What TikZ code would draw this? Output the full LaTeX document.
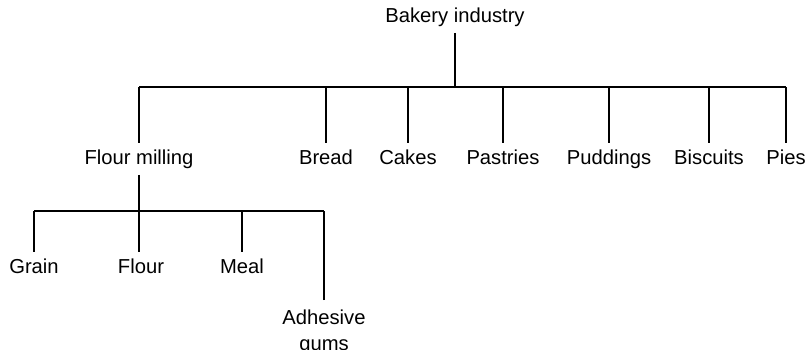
\documentclass[tikz,border=0pt]{standalone}
\usepackage{fontspec}
\setmainfont{Liberation Sans}
\usetikzlibrary{calc}

\begin{document}
\begin{tikzpicture}[x=0.02cm,y=-0.02cm,
  lbl/.style={anchor=base,inner xsep=0pt,inner ysep=3.6pt,text height=8.4pt,text depth=2.4pt,font=\fontsize{11.5}{14.8}\selectfont},
  twolines/.style={anchor=north,align=center,inner xsep=0pt,inner ysep=5.6pt,font=\fontsize{11.5}{14.8}\selectfont},
  tree/.style={line width=.6pt}]
\useasboundingbox (0,0) rectangle (812,349);
% top level
\node[lbl] (bakery) at (455,22) {Bakery industry};
\coordinate (top) at (455,87);
\node[lbl] (fmill) at (139,164) {Flour milling};
\node[lbl] (bread) at (326,164) {Bread};
\node[lbl] (cakes) at (408,164) {Cakes};
\node[lbl] (pastries) at (503,164) {Pastries};
\node[lbl] (puddings) at (609,164) {Puddings};
\node[lbl] (biscuits) at (709,164) {Biscuits};
\node[lbl] (pies) at (786,164) {Pies};
\draw[tree] (bakery.south) -- (top);
\draw[tree] (fmill.north |- top) -- (pies.north |- top);
\foreach \n in {fmill,bread,cakes,pastries,puddings,biscuits,pies}{
	\draw[tree] (\n.north) -- (\n.north |- top);
	}
% flour milling
\coordinate (low) at (139,211);
\node[lbl] (grain) at (34,273) {Grain};
\node[lbl] (flour) at (141,273) {Flour};
\node[lbl] (meal) at (242,273) {Meal};
\node[twolines] (gums) at (324,300) {Adhesive\\gums};
\draw[tree] (fmill.south) -- (fmill.south |- flour.north);
\draw[tree] (grain.north |- low) -- (gums.north |- low);
\foreach \n in {grain,meal,gums}{
	\draw[tree] (\n.north) -- (\n.north |- low);
	}
\end{tikzpicture}
\end{document}
